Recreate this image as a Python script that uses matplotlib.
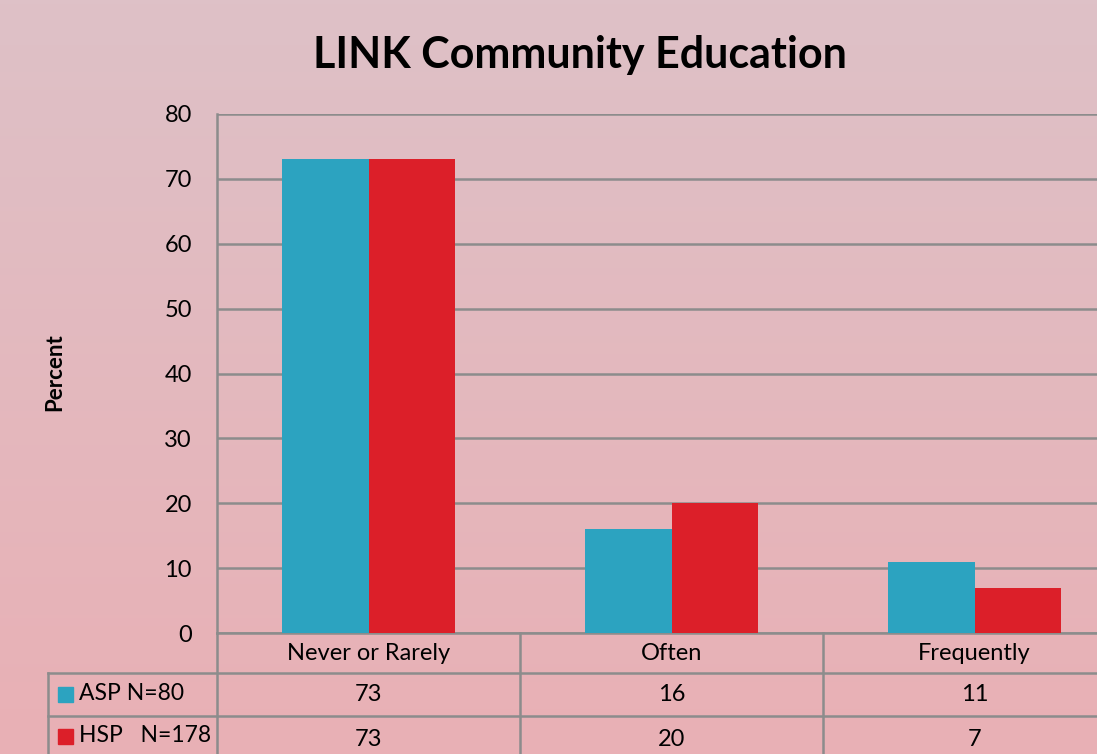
import numpy as np
import matplotlib.pyplot as plt
from matplotlib import transforms

categories = ["Never or Rarely", "Often", "Frequently"]
series_names = ["ASP N=80", "HSP   N=178"]
asp = [73, 16, 11]
hsp = [73, 20, 7]
colors = ["#2CA3C0", "#DC1F29"]
yticks = [0, 10, 20, 30, 40, 50, 60, 70, 80]

plt.rcParams['font.family'] = ['Lato', 'DejaVu Sans']

W, H = 1097, 754
fig = plt.figure(figsize=(W / 100, H / 100), dpi=100)

# background gradient
bg = fig.add_axes([0, 0, 1, 1])
top = np.array([222, 193, 199]) / 255
bot = np.array([233, 176, 181]) / 255
t = np.linspace(0, 1, 200)[:, None]
grad = top[None, :] * (1 - t) + bot[None, :] * t
bg.imshow(grad[:, None, :].repeat(2, axis=1), aspect='auto', extent=[0, 1, 0, 1])
bg.axis('off')

# axes in pixel positions: left 217, right ~1126 (past edge), top 114, bottom 633
x0, x1, yt, yb = 217, 1126, 114, 633
ax = fig.add_axes([x0 / W, 1 - yb / H, (x1 - x0) / W, (yb - yt) / H])
ax.set_facecolor('none')

x = np.arange(len(categories))
bw = 0.284
ax.bar(x - bw / 2, asp, bw, color=colors[0], zorder=3)
ax.bar(x + bw / 2, hsp, bw, color=colors[1], zorder=3)

ax.set_xlim(-0.5, len(categories) - 0.5)
ax.set_ylim(0, 80)
ax.set_yticks(yticks)
ax.set_yticklabels([str(v) for v in yticks], fontsize=17)
ax.set_xticks([])
ax.tick_params(axis='y', length=0, pad=18)
ax.yaxis.grid(True, color='#8C8C8C', linewidth=1.8, zorder=0)
for s in ['top', 'right']:
    ax.spines[s].set_visible(False)
for s in ['left', 'bottom']:
    ax.spines[s].set_color('#8C8C8C')
    ax.spines[s].set_linewidth(1.8)

fig.text(55 / W, 1 - 372 / H, "Percent", fontsize=16, fontweight='bold',
         rotation=90, ha='center', va='center')

fig.text(580 / W, 1 - 55 / H, "LINK Community Education", fontsize=31,
         fontweight='bold', ha='center', va='center')

# data table below the axes
ppx = 1.0 / (yb - yt)  # axes fraction per pixel
trans = transforms.blended_transform_factory(ax.transData, ax.transAxes)
row_edges = [0, -40 * ppx, -83 * ppx, -130 * ppx]
lc = '#8C8C8C'
lw = 1.8
xl = -0.5 - (x0 - 48) / ((x1 - x0) / 3)  # left edge of legend column

# horizontal lines
ax.plot([xl, 2.5], [row_edges[1]] * 2, transform=trans, color=lc, lw=lw, clip_on=False)
ax.plot([xl, 2.5], [row_edges[2]] * 2, transform=trans, color=lc, lw=lw, clip_on=False)
# vertical lines
for i in range(len(categories) + 1):
    ax.plot([i - 0.5] * 2, [0, row_edges[3]], transform=trans, color=lc, lw=lw, clip_on=False)
ax.plot([xl] * 2, [row_edges[1], row_edges[3]], transform=trans, color=lc, lw=lw, clip_on=False)

for i, c in enumerate(categories):
    ax.text(i, (row_edges[0] + row_edges[1]) / 2, c, transform=trans, ha='center',
            va='center', fontsize=17)
for r, vals in enumerate([asp, hsp]):
    ymid = (row_edges[r + 1] + row_edges[r + 2]) / 2
    for i, v in enumerate(vals):
        ax.text(i, ymid, str(v), transform=trans, ha='center', va='center', fontsize=17)
    # legend key + name
    ky_pix = [694, 736][r]
    fig.patches.append(plt.Rectangle((58 / W, 1 - (ky_pix + 8) / H), 15 / W, 15 / H,
                                     transform=fig.transFigure, color=colors[r]))
    fig.text(79 / W, 1 - ky_pix / H, series_names[r], fontsize=16.5, va='center', ha='left')

fig.savefig("out.png", dpi=100)
